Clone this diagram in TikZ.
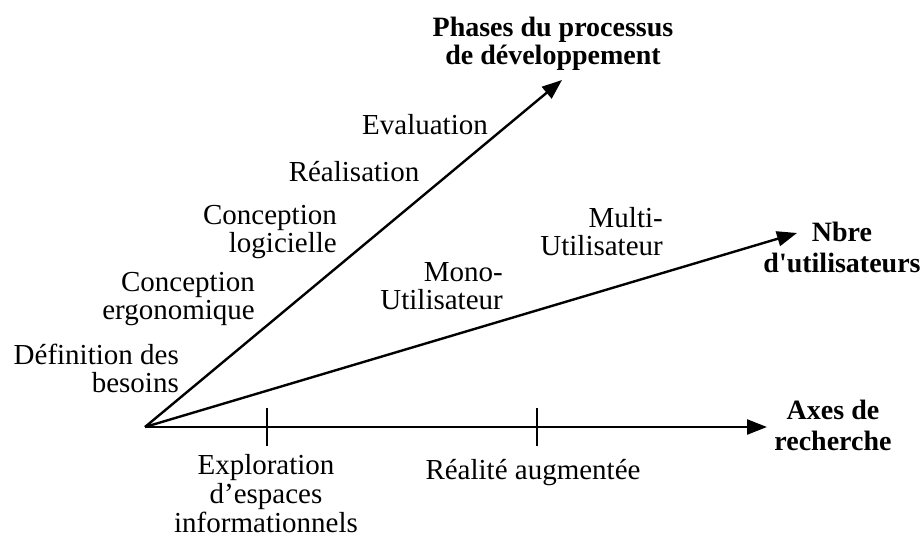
\documentclass[tikz,border=0pt]{standalone}
\usepackage{fontspec}
\setmainfont{Liberation Serif}
\usetikzlibrary{arrows.meta}
\tikzset{
  axis/.style={line width=2.4pt, -{Triangle[length=20pt,width=15pt]}},
  tickline/.style={line width=2pt},
  lbl/.style={font=\fontsize{29}{28}\selectfont, inner sep=0pt},
  blbl/.style={font=\fontsize{28}{28}\selectfont\bfseries, inner sep=0pt, align=center},
}
\begin{document}
\begin{tikzpicture}[x=1pt,y=-1pt]
\useasboundingbox (0,0) rectangle (924,540);
\coordinate (O) at (145,427);
\coordinate (P) at (562,80);
\coordinate (U) at (797,233);
\coordinate (A) at (767,427);
\coordinate (t1a) at (267,408);
\coordinate (t1b) at (267,446);
\coordinate (t2a) at (537,408);
\coordinate (t2b) at (537,446);
\draw[axis] (O) -- (P);
\draw[axis] (O) -- (U);
\draw[axis] (O) -- (A);
\draw[tickline] (t1a) -- (t1b);
\draw[tickline] (t2a) -- (t2b);
% phase labels
\node[lbl, anchor=east, align=right] (def) at (179,368) {Définition des\\besoins};
\node[lbl, anchor=east, align=right] (cerg) at (255,299) {Conception\\ergonomique};
\node[lbl, anchor=east, align=right] (clog) at (337,232) {Conception\\logicielle};
\node[lbl] (real) at (354,172) {Réalisation};
\node[lbl] (eval) at (425,125) {Evaluation};
% user labels
\node[lbl, anchor=east, align=right] (mono) at (503,286) {Mono-\\Utilisateur};
\node[lbl, anchor=east, align=right] (multi) at (663,232) {Multi-\\Utilisateur};
% research labels
\node[lbl, align=center, font=\fontsize{29}{29}\selectfont] (expl) at (266,494) {Exploration\\d’espaces\\informationnels};
\node[lbl] (ra) at (533,473) {Réalité augmentée};
% axis titles
\node[blbl] (phases) at (553,44) {Phases du processus\\de développement};
\node[blbl] (nbre) at (842,247) {Nbre\\[3pt]d\textquotesingle utilisateurs};
\node[blbl] (axes) at (833,425) {Axes de\\[3pt]recherche};
\end{tikzpicture}
\end{document}
